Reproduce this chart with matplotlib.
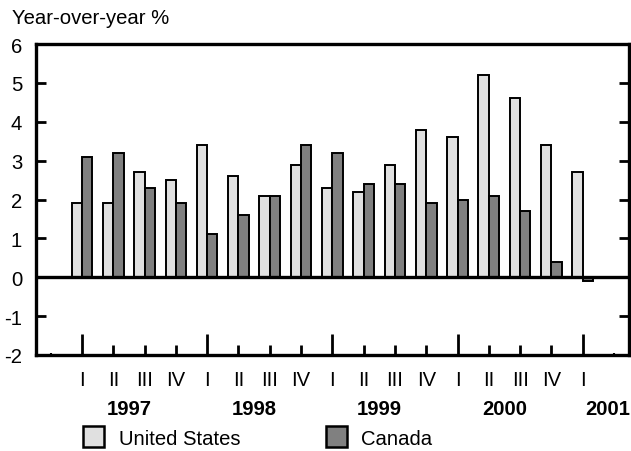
import matplotlib
matplotlib.use("Agg")
import matplotlib.pyplot as plt
import numpy as np
from matplotlib.patches import Patch

plt.rcParams['font.family'] = ['Liberation Sans', 'DejaVu Sans']

quarters = ["I", "II", "III", "IV", "I", "II", "III", "IV", "I", "II", "III", "IV",
            "I", "II", "III", "IV", "I"]
years = ["1997", "1998", "1999", "2000", "2001"]
year_pos = [1.5, 5.5, 9.5, 13.5, 16.8]
us = [1.9, 1.9, 2.7, 2.5, 3.4, 2.6, 2.1, 2.9, 2.3, 2.2, 2.9, 3.8, 3.6, 5.2, 4.6, 3.4, 2.7]
canada = [3.1, 3.2, 2.3, 1.9, 1.1, 1.6, 2.1, 3.4, 3.2, 2.4, 2.4, 1.9, 2.0, 2.1, 1.7, 0.4, -0.1]
series_names = ["United States", "Canada"]

FS = 14.6
fig = plt.figure(figsize=(6.31, 4.52), dpi=100)
ax = fig.add_axes([36/631, 1 - 356/452, (629 - 36)/631, (356 - 45)/452])

x = np.arange(len(quarters))
w = 0.33
ax.bar(x - w/2, us, w, color="#e0e0e0", edgecolor="black", linewidth=1.4, zorder=2)
ax.bar(x + w/2, canada, w, color="#808080", edgecolor="black", linewidth=1.4, zorder=2)
ax.axhline(0, color="black", linewidth=2.4, zorder=3)

ax.set_xlim(-1.47, len(quarters) + 0.48)
ax.set_ylim(-2, 6)
ax.set_yticks(range(-2, 7))
ax.set_yticklabels([str(v) for v in range(-2, 7)], fontsize=FS)
ax.tick_params(axis='y', direction='in', length=7.2, width=2.0, pad=10,
               left=True, right=True)
ax.set_xticks(x)
ax.set_xticklabels(quarters, fontsize=FS)
ax.tick_params(axis='x', direction='in', length=7.2, width=2.0, pad=11)
for i, t in enumerate(ax.xaxis.get_major_ticks()):
    if quarters[i] == "I":
        t.tick1line.set_markersize(15)
ax.set_xticks([-1, len(quarters)], minor=True)
ax.tick_params(axis='x', which='minor', direction='in', length=1.5, width=1.5)

for s in ax.spines.values():
    s.set_linewidth(2.4)

for yr, p in zip(years, year_pos):
    ax.text(p, -0.172, yr, transform=ax.get_xaxis_transform(), ha='center',
            va='center', fontsize=FS, fontweight='bold')

fig.text(12/631, 1 - 18/452, "Year-over-year %", fontsize=FS, va='center', ha='left')

handles = [Patch(facecolor="#e0e0e0", edgecolor="black", linewidth=1.8),
           Patch(facecolor="#808080", edgecolor="black", linewidth=1.8)]
fig.legend(handles, series_names, ncol=2, frameon=False, fontsize=FS,
           loc='center left', bbox_to_anchor=(83/631, 1 - 438/452),
           handlelength=1.05, handleheight=1.2, handletextpad=0.72,
           columnspacing=4.2, borderaxespad=0, borderpad=0)

fig.savefig("out.png", dpi=100)
